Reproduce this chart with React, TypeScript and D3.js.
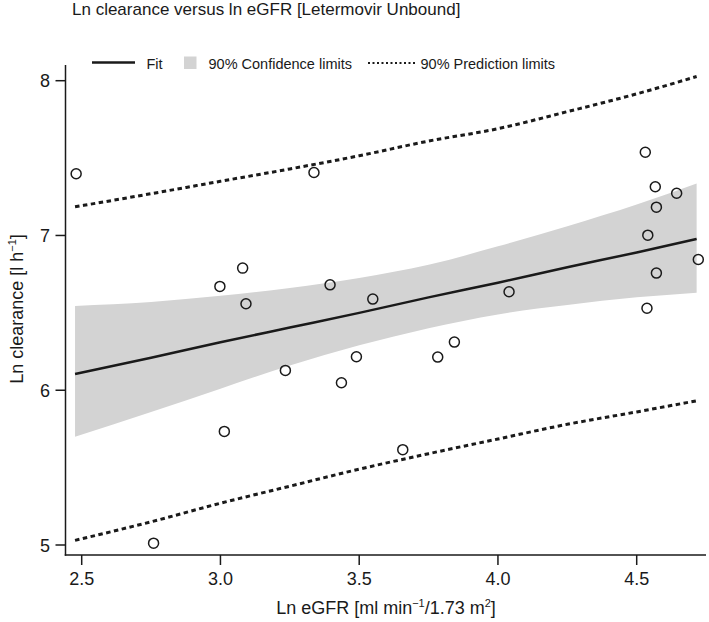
import React from "react";
import * as d3 from "d3";

const title = "Ln clearance versus ln eGFR [Letermovir Unbound]";

// Observed data: ln eGFR (x) and ln clearance (y)
const lnEGFR = [2.48, 2.759, 2.998, 3.014, 3.08, 3.092, 3.234, 3.337, 3.395, 3.436, 3.49, 3.549,
  3.657, 3.783, 3.843, 4.04, 4.531, 4.537, 4.54, 4.567, 4.571, 4.571, 4.644, 4.722];
const lnCL = [7.399, 5.012, 6.671, 5.734, 6.789, 6.559, 6.128, 7.407, 6.681, 6.048, 6.216, 6.589,
  5.616, 6.214, 6.311, 6.636, 7.538, 6.53, 7.002, 7.315, 7.183, 6.757, 7.273, 6.845];

// Fit and limits read at these x positions
const bandX = [2.476, 2.75, 3.0, 3.25, 3.5, 3.75, 4.0, 4.25, 4.5, 4.716];
const fitY = [6.105, 6.21, 6.31, 6.405, 6.5, 6.6, 6.695, 6.795, 6.89, 6.978];
const ciUpper = [6.545, 6.57, 6.61, 6.66, 6.725, 6.81, 6.93, 7.06, 7.2, 7.335];
const ciLower = [5.7, 5.86, 6.01, 6.16, 6.29, 6.4, 6.49, 6.55, 6.6, 6.63];
const predUpper = [7.185, 7.27, 7.35, 7.43, 7.515, 7.61, 7.69, 7.8, 7.915, 8.027];
const predLower = [5.03, 5.15, 5.27, 5.38, 5.49, 5.59, 5.685, 5.78, 5.86, 5.932];

const xTicks = [2.5, 3.0, 3.5, 4.0, 4.5];
const yTicks = [5, 6, 7, 8];

const legendLabels = ["Fit", "90% Confidence limits", "90% Prediction limits"];

export default function App() {
  const W = 709, H = 622;
  const font = "'Liberation Sans', Arial, Helvetica, sans-serif";
  const ink = "#1a1a1a";
  const x = d3.scaleLinear().domain([2.5, 4.5]).range([81.7, 636.7]);
  const y = d3.scaleLinear().domain([5, 8]).range([545, 80.7]);
  const axisX0 = 65.5, axisY0 = 555;

  const idx = bandX.map((_, i) => i);
  const area = d3.area<number>()
    .x((i) => x(bandX[i]))
    .y0((i) => y(ciLower[i]))
    .y1((i) => y(ciUpper[i]))
    .curve(d3.curveMonotoneX);
  const lineOf = (arr: number[]) =>
    d3.line<number>().x((i) => x(bandX[i])).y((i) => y(arr[i])).curve(d3.curveMonotoneX)(idx) || "";

  return (
    <svg width={W} height={H} style={{ position: "absolute", left: 0, top: 0, background: "#fff" }}
      fontFamily={font}>
      <text x={72} y={15} fontSize={17} fill={ink}>{title}</text>

      {/* legend */}
      <g>
        <line x1={92} x2={135} y1={62.5} y2={62.5} stroke={ink} strokeWidth={2.5} />
        <text x={146.5} y={69} fontSize={14.5} fill={ink}>{legendLabels[0]}</text>
        <rect x={184} y={56.5} width={12.5} height={12.5} fill="#d3d3d3" />
        <text x={208.5} y={69} fontSize={14.5} fill={ink}>{legendLabels[1]}</text>
        <line x1={368} x2={417} y1={63} y2={63} stroke={ink} strokeWidth={2} strokeDasharray="2,2.5" />
        <text x={420.5} y={69} fontSize={14.5} fill={ink}>{legendLabels[2]}</text>
      </g>

      {/* confidence band */}
      <path d={area(idx) || ""} fill="#d3d3d3" />
      {/* prediction limits */}
      <path d={lineOf(predUpper)} fill="none" stroke={ink} strokeWidth={3} strokeDasharray="4.5,3.5" />
      <path d={lineOf(predLower)} fill="none" stroke={ink} strokeWidth={3} strokeDasharray="4.5,3.5" />
      {/* fit */}
      <path d={lineOf(fitY)} fill="none" stroke={ink} strokeWidth={2.5} />

      {/* points */}
      {lnEGFR.map((v, i) => (
        <circle key={i} cx={x(v)} cy={y(lnCL[i])} r={5} fill="none" stroke={ink} strokeWidth={1.5} />
      ))}

      {/* axes */}
      <line x1={axisX0} x2={axisX0} y1={65} y2={axisY0 + 0.75} stroke={ink} strokeWidth={1.5} />
      <line x1={axisX0 - 0.75} x2={706} y1={axisY0} y2={axisY0} stroke={ink} strokeWidth={1.5} />
      {yTicks.map((t) => (
        <g key={t}>
          <line x1={axisX0 - 10} x2={axisX0} y1={y(t)} y2={y(t)} stroke={ink} strokeWidth={1.5} />
          <text x={50} y={y(t) + 6.5} textAnchor="end" fontSize={18} fill={ink}>{t}</text>
        </g>
      ))}
      {xTicks.map((t) => (
        <g key={t}>
          <line x1={x(t)} x2={x(t)} y1={axisY0} y2={axisY0 + 10} stroke={ink} strokeWidth={1.5} />
          <text x={x(t)} y={585} textAnchor="middle" fontSize={18} fill={ink}>{t.toFixed(1)}</text>
        </g>
      ))}

      {/* axis titles */}
      <text x={386} y={614} textAnchor="middle" fontSize={18} fill={ink}>
        Ln eGFR [ml min<tspan fontSize={11} dy={-7}>−1</tspan><tspan dy={7}>/1.73 m</tspan>
        <tspan fontSize={11} dy={-7}>2</tspan><tspan dy={7}>]</tspan>
      </text>
      <text transform="translate(23,309) rotate(-90)" textAnchor="middle" fontSize={18} fill={ink}>
        Ln clearance [l h<tspan fontSize={11} dy={-7}>−1</tspan><tspan dy={7}>]</tspan>
      </text>
    </svg>
  );
}
